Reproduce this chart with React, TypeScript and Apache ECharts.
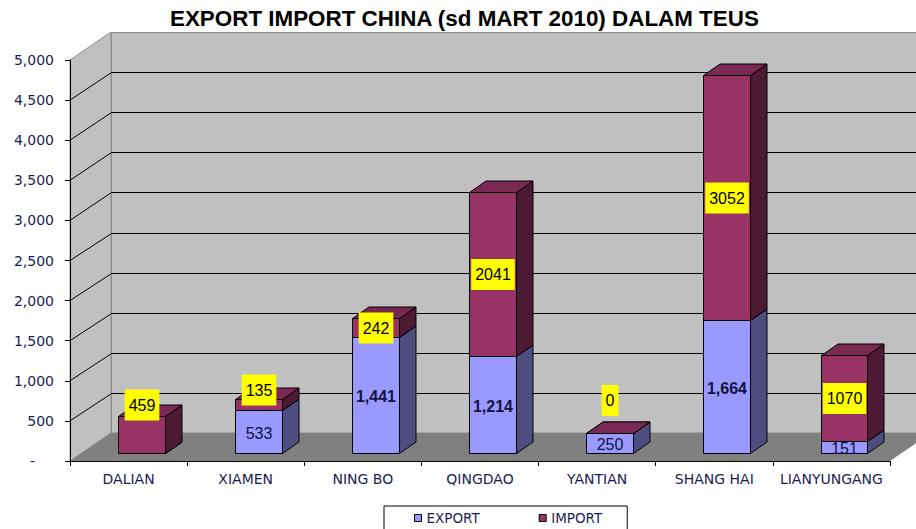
import React, { useEffect, useRef } from "react";
import * as echarts from "echarts";

const TITLE = "EXPORT IMPORT CHINA (sd MART 2010) DALAM TEUS";
const CATEGORIES = ["DALIAN", "XIAMEN", "NING BO", "QINGDAO", "YANTIAN", "SHANG HAI", "LIANYUNGANG"];
const EXPORT = [0, 533, 1441, 1214, 250, 1664, 151];
const IMPORT = [459, 135, 242, 2041, 0, 3052, 1070];
const Y_MIN = 0;
const Y_MAX = 5000;
const Y_STEP = 500;

// layout constants (pixels)
const WALL_D = [41, -28];
const BAR_OFF = [12.5, -8];
const BAR_D = [16.5, -11.5];
const BAR_W_RATIO = 0.4;
// manual vertical nudges of some import labels (px), as in the original chart
const IMPORT_LABEL_NUDGE: Record<string, number> = { DALIAN: -30, XIAMEN: -15, YANTIAN: -33 };

const EXPORT_COL = { front: "#9999ff", side: "#4d4d80", top: "#7a7acc" };
const IMPORT_COL = { front: "#993366", side: "#4d1a33", top: "#7a2952" };
const AXIS_TEXT = "#1c1c54";

const fmt = (v: number) => v.toLocaleString("en-US");

function box(xl: number, xr: number, yb: number, yt: number, c: any) {
  const [dx, dy] = BAR_D;
  const st = (fill: string) => ({ fill, stroke: "#000", lineWidth: 1 });
  return [
    { type: "polygon", shape: { points: [[xl, yb], [xr, yb], [xr, yt], [xl, yt]] }, style: st(c.front) },
    { type: "polygon", shape: { points: [[xr, yb], [xr + dx, yb + dy], [xr + dx, yt + dy], [xr, yt]] }, style: st(c.side) },
    { type: "polygon", shape: { points: [[xl, yt], [xr, yt], [xr + dx, yt + dy], [xl + dx, yt + dy]] }, style: st(c.top) },
  ];
}

function barGeom(params: any, api: any) {
  const i = api.value(0);
  const cs = params.coordSys;
  const catW = cs.width / CATEGORIES.length;
  const cx = api.coord([i, 0])[0] + BAR_OFF[0];
  const w = catW * BAR_W_RATIO;
  const xl = Math.round(cx - w / 2) + 0.5;
  const xr = Math.round(cx + w / 2) + 0.5;
  const y = (v: number) => Math.round(api.coord([i, v])[1] + BAR_OFF[1]) + 0.5;
  return { i, xl, xr, cx: (xl + xr) / 2, y };
}

export default function App() {
  const ref = useRef<HTMLDivElement>(null);
  useEffect(() => {
    if (!ref.current) return;
    const chart = echarts.init(ref.current, null, { renderer: "svg" });

    const wallsRender = (params: any, api: any) => {
      const cs = params.coordSys;
      const x0 = cs.x;
      const x1 = cs.x + cs.width;
      const [dx, dy] = WALL_D;
      const yT = api.coord([0, Y_MAX])[1];
      const yB = api.coord([0, Y_MIN])[1];
      const children: any[] = [
        { type: "polygon", shape: { points: [[x0, yT], [x0 + dx, yT + dy], [x0 + dx, yB + dy], [x0, yB]] }, style: { fill: "#c0c0c0", stroke: "#8c8c8c", lineWidth: 1 } },
        { type: "polygon", shape: { points: [[x0 + dx + 0.5, yT + dy + 0.5], [x1 + dx + 20, yT + dy + 0.5], [x1 + dx + 20, yB + dy], [x0 + dx + 0.5, yB + dy]] }, style: { fill: "#c0c0c0", stroke: "#8c8c8c", lineWidth: 1 } },
        { type: "polygon", shape: { points: [[x0, yB], [x1, yB], [x1 + dx, yB + dy], [x0 + dx, yB + dy]] }, style: { fill: "#808080" } },
      ];
      for (let v = Y_MIN + Y_STEP; v < Y_MAX; v += Y_STEP) {
        const yf = api.coord([0, v])[1];
        const yb = Math.round(yf + dy) + 0.5;
        children.push({
          type: "polyline",
          shape: { points: [[x0, yf], [x0 + dx + 0.5, yb], [x1 + dx + 20, yb]] },
          style: { stroke: "#000", lineWidth: 1, fill: null },
        });
      }
      return { type: "group", children };
    };

    const exportRender = (params: any, api: any) => {
      const g = barGeom(params, api);
      const ex = api.value(1);
      const yb = g.y(0);
      const yt = g.y(ex);
      const children: any[] = box(g.xl, g.xr, yb, yt, EXPORT_COL);
      if (ex > 0) {
        children.push({
          type: "text",
          z2: 10,
          style: {
            text: fmt(ex), x: g.cx, y: (yb + yt) / 2 + 1, align: "center", verticalAlign: "middle",
            fill: "#14143c", fontFamily: "Liberation Sans", fontSize: 16, fontWeight: ex >= 1000 ? "bold" : "normal",
          },
        });
      }
      return { type: "group", children };
    };

    const importRender = (params: any, api: any) => {
      const g = barGeom(params, api);
      const ex = api.value(1);
      const im = api.value(2);
      const yb = g.y(ex);
      const yt = g.y(ex + im);
      const children: any[] = box(g.xl, g.xr, yb, yt, IMPORT_COL);
      const nudge = IMPORT_LABEL_NUDGE[CATEGORIES[g.i]] || 0;
      children.push({
        type: "text",
        z2: 20,
        style: {
          text: String(im), x: g.cx, y: (yb + yt) / 2 + nudge, align: "center", verticalAlign: "middle",
          fill: "#000", fontFamily: "Liberation Sans", fontSize: 16, lineHeight: 18,
          backgroundColor: "#ffff00", padding: [7, 4, 6, 4],
        },
      });
      return { type: "group", children };
    };

    chart.setOption({
      animation: false,
      backgroundColor: "#fff",
      title: {
        text: TITLE,
        left: 170,
        top: 6,
        padding: 0,
        textStyle: { fontFamily: "Liberation Sans", fontWeight: "bold", fontSize: 22.4, lineHeight: 24, color: "#000" },
      },
      legend: {
        left: 384,
        top: 506,
        orient: "horizontal",
        selectedMode: false,
        itemWidth: 7,
        itemHeight: 7,
        itemGap: 59,
        padding: [5, 25, 14, 30],
        borderColor: "#000",
        borderWidth: 1,
        backgroundColor: "#fff",
        textStyle: { fontFamily: "DejaVu Sans", fontSize: 13.5, color: AXIS_TEXT },
        data: [
          { name: "EXPORT", icon: "rect", itemStyle: { color: EXPORT_COL.front, borderColor: "#000", borderWidth: 1 } },
          { name: "IMPORT", icon: "rect", itemStyle: { color: IMPORT_COL.front, borderColor: "#000", borderWidth: 1 } },
        ],
      },
      grid: { left: 70, right: 26, top: 60, bottom: 68, containLabel: false },
      xAxis: {
        type: "category",
        data: CATEGORIES,
        boundaryGap: true,
        z: 5,
        axisLine: { show: true, lineStyle: { color: "#000", width: 1 } },
        axisTick: { show: true, length: 5, alignWithLabel: false, lineStyle: { color: "#000" } },
        axisLabel: { margin: 11, fontFamily: "DejaVu Sans", fontSize: 14, color: AXIS_TEXT, interval: 0 },
        splitLine: { show: false },
      },
      yAxis: {
        type: "value",
        min: Y_MIN,
        max: Y_MAX,
        interval: Y_STEP,
        z: 5,
        axisLine: { show: true, lineStyle: { color: "#000", width: 1 } },
        axisTick: { show: true, length: 5, lineStyle: { color: "#000" } },
        axisLabel: {
          margin: 16,
          fontFamily: "DejaVu Sans",
          fontSize: 14,
          color: AXIS_TEXT,
          formatter: (v: number) => (v === 0 ? "{z|-}" : fmt(v)),
          rich: { z: { fontFamily: "DejaVu Sans", fontSize: 14, color: AXIS_TEXT, padding: [0, 19, 0, 0] } },
        },
        splitLine: { show: false },
      },
      series: [
        {
          type: "custom",
          name: "walls",
          silent: true,
          z: 1,
          renderItem: wallsRender,
          data: [[0, 0]],
        },
        {
          type: "custom",
          name: "EXPORT",
          z: 3,
          itemStyle: { color: EXPORT_COL.front },
          renderItem: exportRender,
          data: CATEGORIES.map((_, i) => [i, EXPORT[i]]),
        },
        {
          type: "custom",
          name: "IMPORT",
          z: 4,
          itemStyle: { color: IMPORT_COL.front },
          renderItem: importRender,
          data: CATEGORIES.map((_, i) => [i, EXPORT[i], IMPORT[i]]),
        },
      ],
    });
    return () => chart.dispose();
  }, []);
  return <div ref={ref} style={{ position: "fixed", left: 0, top: 0, width: 916, height: 529 }} />;
}
